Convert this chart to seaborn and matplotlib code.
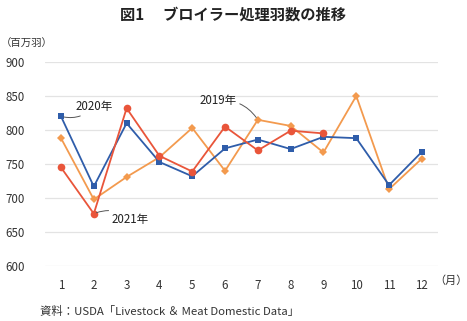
import matplotlib
matplotlib.use("Agg")
import matplotlib.pyplot as plt
import seaborn as sns
import pandas as pd

# Monthly broiler slaughter (million head)
months = list(range(1, 13))
y2019 = [788, 698, 731, 760, 803, 740, 815, 806, 767, 850, 713, 758]
y2020 = [820, 717, 810, 753, 732, 773, 786, 772, 790, 788, 719, 768]
y2021 = [745, 677, 832, 762, 739, 805, 770, 799, 795]
series_names = ["2019年", "2020年", "2021年"]
yticks = [600, 650, 700, 750, 800, 850, 900]

sns.set_theme(style="white")
plt.rcParams["font.family"] = ["Noto Sans CJK JP", "DejaVu Sans"]

rows = []
for name, vals in zip(series_names, [y2019, y2020, y2021]):
    for m, v in zip(months, vals):
        rows.append({"month": m, "value": v, "year": name})
df = pd.DataFrame(rows)

palette = {"2019年": "#F39A4E", "2020年": "#2F5DAA", "2021年": "#E9553A"}
markers = {"2019年": "D", "2020年": "s", "2021年": "o"}
msize = {"2019年": 4.2, "2020年": 5, "2021年": 5.5}

fig = plt.figure(figsize=(4.67, 3.21), dpi=100)
ax = fig.add_axes([0.0955, 0.171, 0.843, 0.636])

for name in series_names:
    sub = df[df["year"] == name]
    sns.lineplot(data=sub, x="month", y="value", color=palette[name],
                 marker=markers[name], markersize=msize[name],
                 markeredgewidth=0, linewidth=1.3, ax=ax, legend=False)

ax.set_xlim(0.5, 12.5)
ax.set_ylim(600, 900)
ax.set_yticks(yticks)
ax.set_xticks(months)
ax.set_xticklabels([str(m) for m in months])
ax.grid(axis="y", color="#E3E3E3", linewidth=0.9)
ax.set_axisbelow(True)
for s in ax.spines.values():
    s.set_visible(False)
ax.tick_params(axis="both", length=0, labelsize=8.3, colors="#333333")
ax.tick_params(axis="y", pad=14)
ax.tick_params(axis="x", pad=9)
ax.set_xlabel("")
ax.set_ylabel("")

lead = dict(arrowstyle="-", color="#555555", lw=0.7, shrinkA=0, shrinkB=2)
ax.annotate("2020年", xy=(1, 820), xytext=(1.45, 835), fontsize=8.3,
            va="center", ha="left", color="#222222",
            arrowprops=dict(lead, connectionstyle="arc3,rad=-0.3"))
ax.annotate("2019年", xy=(7, 815), xytext=(6.35, 843), fontsize=8.3,
            va="center", ha="right", color="#222222",
            arrowprops=dict(lead, connectionstyle="arc3,rad=-0.3"))
ax.annotate("2021年", xy=(2, 677), xytext=(2.55, 669), fontsize=8.3,
            va="center", ha="left", color="#222222",
            arrowprops=dict(lead, connectionstyle="arc3,rad=0.3"))

fig.text(0.5, 0.955, "図1\u3000 ブロイラー処理羽数の推移", ha="center", va="center",
         fontsize=11, fontweight="bold", color="#222222")
fig.text(0.002, 0.862, "（百万羽）", ha="left", va="center", fontsize=7.5, color="#333333")
fig.text(0.93, 0.125, "（月）", ha="left", va="center", fontsize=8, color="#333333")
fig.text(0.086, 0.03, "資料：USDA「Livestock \uff06 Meat Domestic Data」", ha="left",
         va="center", fontsize=8.2, color="#333333")

fig.savefig("out.png", dpi=100)
